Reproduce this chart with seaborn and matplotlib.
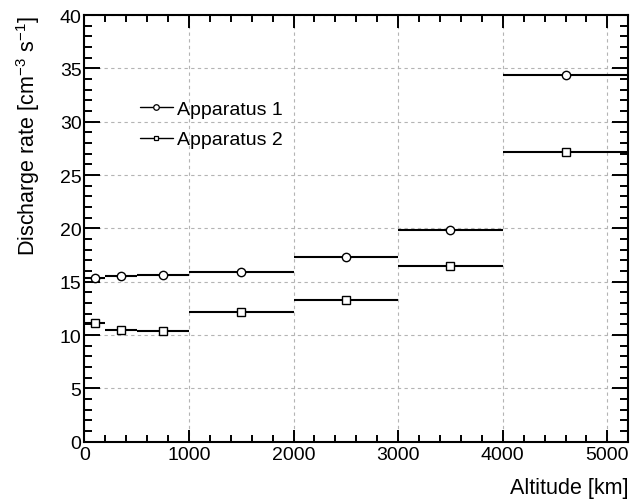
import numpy as np
import matplotlib
matplotlib.use("Agg")
import matplotlib.pyplot as plt
import seaborn as sns
from matplotlib.lines import Line2D
from matplotlib.ticker import MultipleLocator

# Données
bin_low = [0, 200, 500, 1000, 2000, 3000, 4000]
bin_high = [200, 500, 1000, 2000, 3000, 4000, 5200]
rate_app1 = [15.37, 15.53, 15.62, 15.9, 17.3, 19.8, 34.37]
rate_app2 = [11.1, 10.43, 10.34, 12.14, 13.3, 16.5, 27.17]
labels = ["Apparatus 1", "Apparatus 2"]

sns.set_theme(style="ticks")
plt.rcParams['font.family'] = ['Liberation Sans', 'DejaVu Sans']
plt.rcParams['mathtext.fontset'] = 'custom'
plt.rcParams['mathtext.rm'] = 'Liberation Sans'
plt.rcParams['text.color'] = 'black'
plt.rcParams['axes.labelcolor'] = 'black'
plt.rcParams['xtick.color'] = 'black'
plt.rcParams['ytick.color'] = 'black'

lo = np.array(bin_low, dtype=float)
hi = np.array(bin_high, dtype=float)
centers = (lo + hi) / 2
half = (hi - lo) / 2

fig = plt.figure(figsize=(6.32, 5.02), dpi=100)
ax = fig.add_axes([0.1334, 0.1181, 0.8608, 0.85])

ax.errorbar(centers, rate_app1, xerr=half, fmt='o', color='black', mfc='white',
            mec='black', ms=6, mew=1.0, elinewidth=1.5, capsize=0, zorder=3)
ax.errorbar(centers, rate_app2, xerr=half, fmt='s', color='black', mfc='white',
            mec='black', ms=5.5, mew=1.0, elinewidth=1.5, capsize=0, zorder=3)

ax.set_xlim(0, 5200)
ax.set_ylim(0, 40)
ax.xaxis.set_major_locator(MultipleLocator(1000))
ax.xaxis.set_minor_locator(MultipleLocator(200))
ax.yaxis.set_major_locator(MultipleLocator(5))
ax.yaxis.set_minor_locator(MultipleLocator(1))
ax.tick_params(which='both', direction='in', top=True, right=True, labelsize=14,
               width=1.4, color='black')
ax.tick_params(axis='x', which='major', length=9, pad=3)
ax.tick_params(axis='x', which='minor', length=4.8)
ax.tick_params(axis='y', which='major', length=11.3, pad=2)
ax.tick_params(axis='y', which='minor', length=6)
for s in ax.spines.values():
    s.set_linewidth(1.5)
    s.set_color('black')
ax.grid(True, which='major', linestyle=(0, (3, 3)), color='#b4b4b4', linewidth=0.8)

ax.set_xlabel("Altitude [km]", fontsize=15.5, loc='right', labelpad=10)
ax.set_ylabel(r"Discharge rate [cm$^{-3}$ s$^{-1}$]", fontsize=15.5, loc='top', labelpad=13)

handles = [
    Line2D([], [], color='black', marker='o', mfc='white', ms=4, mew=0.9, lw=1.0),
    Line2D([], [], color='black', marker='s', mfc='white', ms=3.5, mew=0.9, lw=1.0),
]
ax.legend(handles, labels, loc='upper left', bbox_to_anchor=(0.102, 0.80),
          frameon=False, fontsize=14, handlelength=1.7, handletextpad=0.2,
          labelspacing=0.66, borderpad=0, borderaxespad=0)

fig.savefig("out.png", dpi=100)
